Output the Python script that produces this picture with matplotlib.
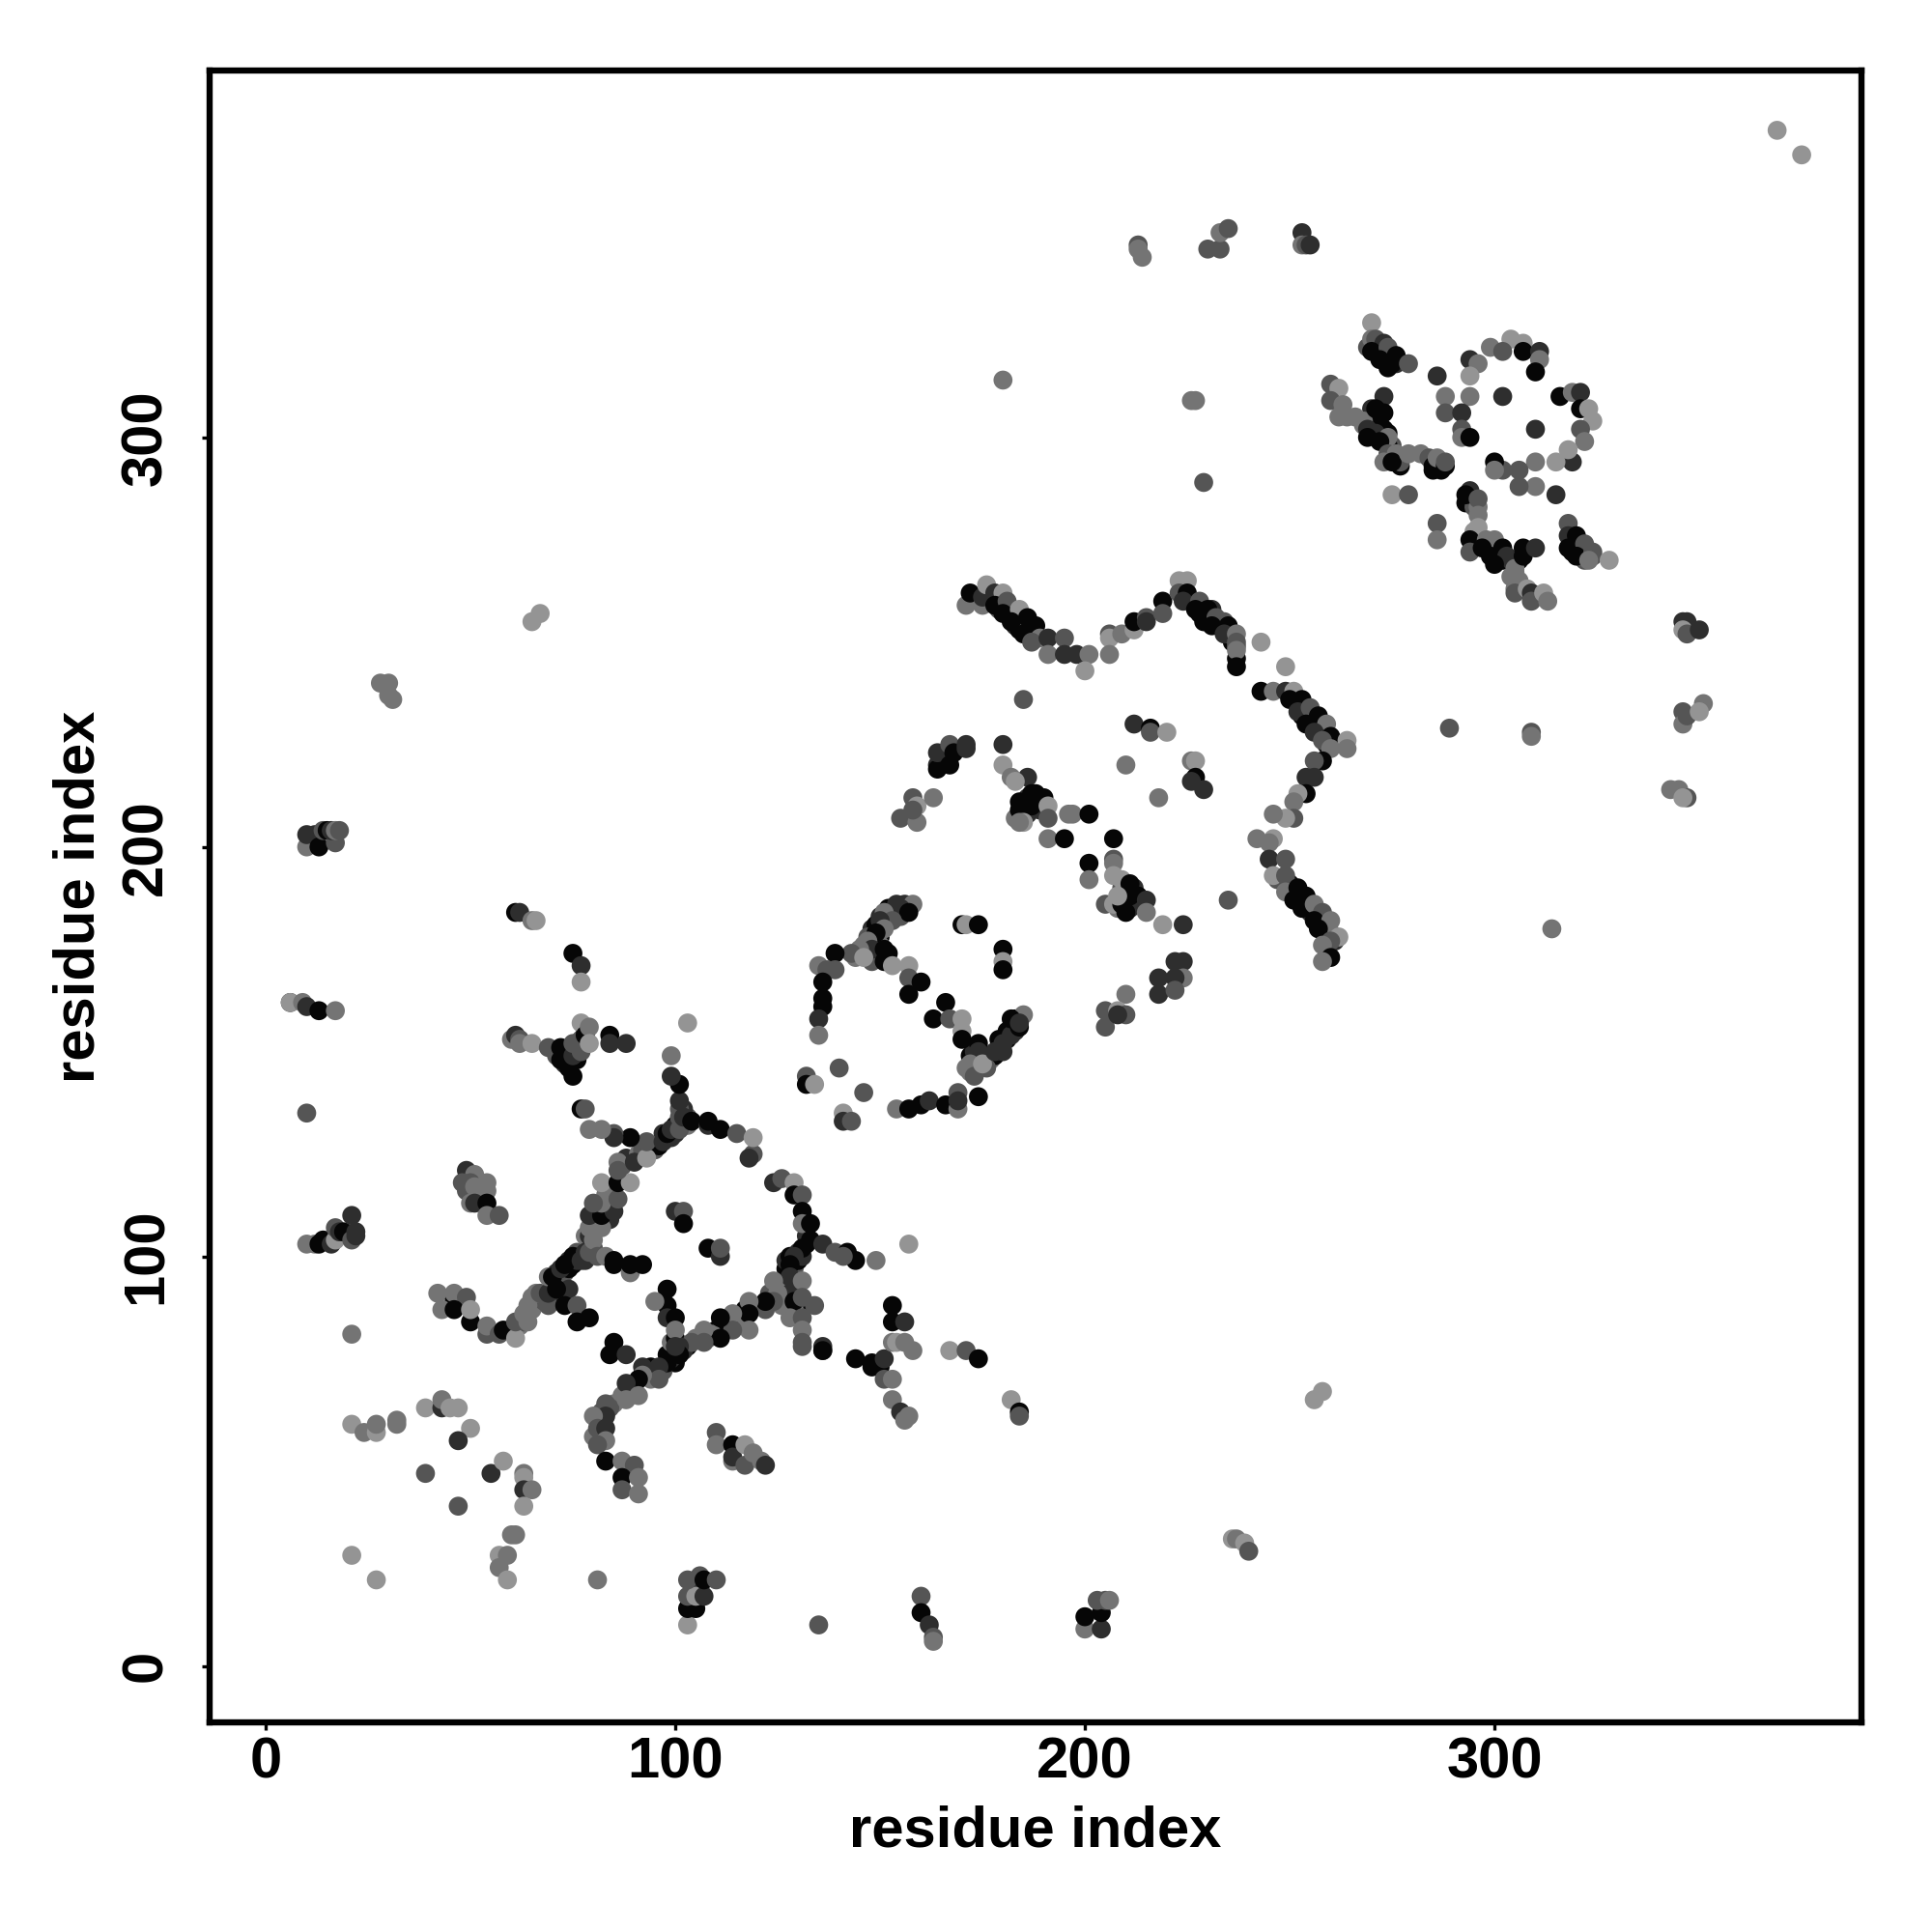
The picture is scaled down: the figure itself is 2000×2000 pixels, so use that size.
import matplotlib
matplotlib.use('Agg')
import matplotlib.pyplot as plt

plt.rcParams['font.family'] = ['Liberation Sans', 'DejaVu Sans']
plt.rcParams['font.weight'] = 'bold'

# contacts: (residue, residue, shade class 0=darkest .. 4=lightest)
shades = ['#060606', '#2e2e2e', '#555555', '#747474', '#949494']

# thick parts of the chains, these go underneath
dense_under = [(70,94,0),(71,96,1),(72,95,0),(73,96,2),(74,97,0),(74,99,1),(75,98,0),(76,99,1),(76,101,2),(77,100,0),(78,99,1),(79,103,3),
    (80,102,2),(78,105,3),(79,105,1),(65,87,3),(62,83,3),(63,84,2),(65,90,3),(68,89,2),(70,92,0),(72,91,0),(70,90,1),
    (80,108,0),(81,109,1),(81,111,3),(83,112,0),(84,113,2),(83,115,3),(84,109,1),(87,122,2),(88,124,1),(91,125,3),(92,126,2),(94,126,1),
    (95,126,2),(96,127,0),(97,130,1),(99,129,1),(100,132,0),(100,130,1),(102,132,1),(103,134,2),(102,136,1),(101,136,2),(103,132,3),
    (127,97,0),(127,99,1),(128,100,0),(129,97,2),(130,99,0),(130,101,1),(131,100,1),(132,103,0),(132,105,1),(127,93,2),(126,92,3),(128,91,1),
    (130,88,0),(129,87,3),(123,91,2),(122,87,2),(125,91,3),(126,88,3),
    (116,84,3),(117,87,0),(113,84,2),(112,82,1),(110,82,0),(109,81,3),(108,80,2),(105,80,3),(103,78,0),(102,77,1),(100,76,1),(100,74,0),
    (99,75,1),(98,76,0),(97,72,2),(95,71,1),(94,73,0),(93,71,2),(94,70,3),(90,68,3),(89,67,2),(87,66,3),(85,64,3),(84,63,2),(82,62,2),
    (81,60,1),(82,56,2),(80,56,3),(99,79,3),(100,80,0),
    (73,150,0),(73,147,1),(74,148,0),(76,151,1),(77,153,2),(78,155,1),(76,148,0),(78,152,2),(71,149,2),(74,146,0),
    (52,116,2),(53,115,1),(49,116,2),
    (148,180,1),(149,181,0),(150,183,1),(152,185,0),(153,184,2),(154,186,1),(156,186,1),(147,178,2),(146,176,3),(149,177,1),(150,178,0),
    (144,173,3),(147,174,3),(148,172,2),(152,174,0),(150,176,3),(155,183,2),
    (174,146,3),(175,148,1),(176,149,0),(177,148,3),(178,149,0),(179,151,1),(180,150,1),(181,153,0),(183,155,1),(183,158,0),(184,158,1),
    (176,146,2),(172,149,0),(173,150,1),(179,153,0),(181,155,0),(171,146,3),
    (185,210,0),(186,212,1),(188,211,0),(186,208,1),(188,213,0),(189,209,1),(183,207,3),(210,187,0),(211,185,1),(212,190,1),(213,188,0),
    (208,185,3),(209,190,2),(212,186,1),
    (177,260,0),(179,258,2),(181,258,1),(183,256,0),(183,254,1),(185,254,1),(184,253,0),(187,252,3),(186,253,2),
    (226,260,1),(228,257,0),(230,256,2),(231,258,1),(233,254,0),(234,255,2),(236,252,1),(236,250,0),(237,246,0),(237,249,2),(235,252,3),
    (252,235,1),(254,234,0),(255,232,2),(256,230,1),(253,232,0),(257,229,3),(258,228,0),(259,228,1),(259,225,0),(261,225,2),
    (250,191,0),(251,190,1),(253,187,2),(254,186,0),(255,184,1),(257,183,0),(259,181,2),(258,180,0),(260,179,3),(261,177,1),(252,188,0),
    (256,183,1),(247,192,2),
    (269,322,2),(271,321,1),(272,320,0),(273,319,1),(275,320,0),(276,318,1),(274,317,0),(270,307,1),(272,305,0),(272,303,1),(270,304,3),
    (274,301,0),(275,298,2),(274,298,0),(276,295,3),(277,293,0),(277,294,2),(285,292,0),(286,294,1),(287,292,0),(294,284,1),(293,284,0),
    (295,283,2),(296,283,3),(295,277,4),(296,276,3),(297,275,1),(299,272,0),(301,272,1),(302,270,0),(304,270,1),(305,267,3),(306,270,0),
    (304,266,3),(305,263,3),(306,265,3),(319,275,0),(319,272,0),(321,272,1),(322,272,1),(322,270,2),(324,271,2),(268,303,3),(270,301,1),
    (271,303,0),(104,18,2),(105,20,1),(106,19,1),(104,15,0)]

far_left = [(6,162,1),(6,162,4),(9,162,3),(10,161,1),(13,160,0),(17,160,3),(10,135,2),
    (10,103,3),(12,103,3),(13,103,0),(14,104,0),(16,103,1),(17,104,4),(17,107,2),(18,106,1),(19,106,0),
    (21,104,2),(21,110,1),(22,106,1),(22,105,1),
    (10,200,3),(10,203,1),(12,203,1),(13,200,0),(14,204,2),(15,204,0),(17,201,2),(16,204,1),(17,204,3),(18,204,2),
    (28,240,3),(30,240,3),(30,237,3),(31,236,3),(61,184,0),(62,184,1),(65,182,3),(66,182,4),(65,255,4),(67,257,4),
    (21,81,3)]

left_cloud = [(21,59,4),(24,57,3),(27,57,4),(27,59,3),(32,59,3),(32,60,3),(39,63,4),(43,63,1),(43,65,3),(47,63,4),
    (45,63,4),(50,58,4),(47,55,1),(39,47,2),(55,47,1),(58,50,4),(63,47,3),(63,46,4),(63,43,1),(65,43,3),(63,39,4),
    (47,39,2),(60,32,3),(61,32,3),(57,27,4),(59,27,3),(57,24,3),(59,21,4),(21,27,4),(27,21,4),(81,21,3)]

block_50 = [(49,121,1),(51,120,3),(48,118,2),(50,118,2),(51,117,3),(54,118,3),(54,116,3),(50,113,3),(51,113,1),
    (54,113,0),(54,110,3),(57,110,2)]

hook_left = [(42,91,3),(46,89,0),(46,91,3),(49,90,2),(43,87,3),(46,87,0),(50,84,0),(50,87,4),(54,81,2),(54,83,3),
    (57,81,2),(58,82,0),(61,80,4),(61,84,2),(63,86,3),(64,84,3),(64,88,3),(66,91,3),(67,91,2),(69,88,2),(69,91,1)]

chain_up = [(69,95,3),(70,95,0),(72,97,1),(73,98,0),(74,92,1),(71,92,0),(75,100,0),(77,99,1),(78,101,1),(79,101,2),
    (80,104,3),(81,100,2),(83,100,3),(85,99,0),(85,98,0),(89,96,3),(89,98,0),(92,98,0),
    (73,88,0),(76,88,2),(76,84,0),(79,85,0),
    (79,107,3),(82,107,3),(79,110,1),(82,110,0),(85,111,1),(82,113,3),(80,113,2),(86,114,2),(82,118,4),(86,118,0),
    (89,118,4),(86,123,3),(86,121,2),(90,123,1),(93,124,4),(93,128,2),(89,129,0),(85,130,2),(85,129,1),(82,131,3),
    (79,131,3),(77,136,0),(78,136,2)]

star_top = [(97,128,1),(98,130,0),(99,131,1),(101,131,2),(101,134,2),(102,134,1),(101,138,1),(101,142,0),(99,144,1),
    (99,149,3),(103,157,4),(104,133,0),(108,132,1),(108,133,0),(111,131,0),(115,130,2),(119,125,2),(118,124,1),(119,129,4),
    (100,111,1),(102,111,2),(102,108,0),(108,102,0),(111,100,1),(111,102,2)]

ring_right = [(124,118,1),(126,119,2),(129,118,4),(129,115,0),(131,115,2),(131,111,0),(131,108,3),(133,108,0),(133,104,0),
    (136,103,1),(139,101,2),(142,101,0),(144,99,0),(149,99,3),(131,102,0),(129,100,1),(128,98,0),(128,95,1),(124,94,3),
    (124,89,2),(122,89,0),(129,89,0),(128,85,3),(131,85,2),(131,82,3),(131,79,2),(136,77,2),(136,78,1),(144,75,0),(148,73,0)]

chain_low = [(118,89,3),(118,86,0),(118,82,3),(114,86,3),(114,82,2),(111,85,0),(111,80,0),(107,82,3),(107,79,2),(104,79,2),
    (101,78,1),(101,76,0),(98,74,0),(96,73,1),(96,70,2),(92,73,1),(92,71,3),(91,70,0),(88,69,1),(91,66,3),(88,65,3),
    (83,64,2),(83,61,1),(80,61,3),(81,58,2),(83,58,1),(83,55,3),(81,54,2),(83,50,0),(87,50,3),(90,49,2),(87,46,0),
    (91,46,3),(87,43,2),(91,42,3),(98,92,0),(98,88,0),(95,89,3),(98,85,1),(100,85,0),(100,82,3),(100,78,1),
    (85,79,0),(84,76,0),(88,76,1)]

low_mid = [(103,10,4),(103,14,0),(105,14,0),(103,17,2),(105,17,4),(107,17,1),(103,21,2),(106,22,2),(107,21,0),(110,21,2),
    (135,10,2),(110,57,2),(110,54,3),(114,54,0),(114,50,3),(114,51,1),(117,54,4),(117,49,2),(119,52,3),(121,50,3),(122,49,1),
    (160,17,2),(160,13,0),(162,10,1),(163,7,2),(163,6,3),(200,9,3),(200,12,0),(204,9,1),(204,13,0),(203,16,2),(205,16,2),(206,16,3),
    (236,31,4),(237,31,3),(239,30,4),(240,28,2),(258,67,4),(256,65,4)]

top_left = [(60,153,3),(61,154,1),(62,153,2),(62,152,3),(65,152,4),(69,151,2),(72,151,0),(72,148,0),(75,149,1),(75,144,0),
    (75,152,2),(77,150,2),(77,157,4),(78,154,0),(79,156,3),(79,152,4),(84,154,0),(84,152,1),(88,152,1),
    (75,174,0),(77,171,1),(77,167,4)]

mid_right = [(131,94,3),(131,90,2),(134,88,2),(141,100,2),(136,77,0),(131,78,2),(153,88,0),(153,84,0),(156,84,1),(148,74,0),
    (150,73,0),(151,75,1),(151,70,2),(153,79,3),(154,79,4),(156,79,3),(158,77,3),(153,70,3),(153,65,3),(155,62,1),(157,61,3),
    (156,60,3),(167,77,4),(171,77,2),(174,75,0),(182,65,4),(184,62,0),(184,61,2),(157,103,4)]

ridge_top = [(171,259,3),(172,262,0),(175,259,3),(175,261,1),(176,264,4),(178,262,1),(180,262,4),(178,259,0),(181,260,2),
    (180,257,0),(184,258,4),(182,255,0),(186,256,0),(185,252,0),(188,254,0),(189,251,3),(187,250,2),(191,251,1),(191,247,3),
    (195,251,2),(195,247,1),(198,247,1),(201,247,3),(200,243,4),(206,252,2),(206,251,4),(206,247,3),(209,252,3),(212,253,4),
    (212,255,0),(215,256,2),(215,255,1),(219,260,0),(219,257,2)]

ridge_right = [(223,265,4),(225,265,4),(223,262,2),(225,262,0),(224,260,1),(228,260,2),(227,258,0),(230,258,0),(229,255,0),
    (232,256,2),(231,254,0),(235,254,0),(234,252,1),(237,252,3),(237,250,2),(237,248,3),(237,244,0),(243,250,4),(249,244,4),
    (243,238,0),(246,238,3),(249,238,1),(251,238,4),(250,236,0),(253,236,0),(252,233,1),(255,234,2),(257,232,0),(254,230,0),
    (259,230,3),(256,228,1),(260,227,0),(258,226,2),(264,226,4),(264,224,3),(260,224,3),
    (258,221,0),(256,221,2),(256,217,1),(254,217,1),(254,213,0),(252,213,4),(251,211,3),(251,207,2),(249,207,4),(246,208,3),
    (242,202,3),(246,202,4),(245,201,3),(245,197,1),(249,197,2),(246,193,4),(249,193,2),(249,189,3),(252,190,0),(251,187,0),
    (254,188,0),(253,185,0),(256,186,3),(258,184,2),(256,182,0),(260,182,3),(257,180,0),(262,178,4),(260,177,2),(258,176,3),
    (260,173,0),(258,172,3)]

inner_200 = [(185,236,2),(212,230,1),(216,229,0),(216,228,2),(220,228,4),(226,221,3),(227,221,4),(227,217,0),(226,216,1),
    (229,214,1),(210,220,3),(218,212,3),(235,187,2),
    (164,220,1),(164,219,0),(164,223,1),(167,225,2),(167,220,0),(168,223,0),(171,225,1),(171,224,1),
    (155,207,2),(158,212,2),(159,210,4),(159,206,3),(158,209,2),(163,212,3),
    (180,225,1),(180,220,4),(182,217,3),(186,217,1),(183,216,4),(187,213,0),(190,212,0),(184,211,0),(187,210,0),(191,210,4),
    (184,209,0),(185,206,4),(184,206,3),(191,207,2),(196,208,3),(197,208,3),(201,208,0),(191,202,3),(195,202,0),(207,202,0),
    (201,196,0),(201,192,3),(207,197,2),(207,196,3),(207,193,4),(209,192,4),(211,191,0),(211,188,0),(215,187,1),(215,184,3),
    (205,186,2),(207,186,4),(209,186,0),(210,184,0),(208,188,4),(219,181,4),(224,181,1)]

low_200 = [(222,172,1),(224,172,1),(224,168,3),(218,168,1),(222,168,1),(218,164,1),(222,165,2),(210,164,3),(205,160,2),(205,156,2),
    (208,160,4),(210,159,2),(208,159,1)]

ring_150 = [(158,186,3),(155,185,1),(157,184,0),(151,184,3),(153,182,2),(150,182,1),(151,180,3),(149,179,0),(147,177,3),(148,175,1),
    (145,175,3),(143,174,2),(146,173,4),(151,175,0),(151,172,0),(153,171,4),(157,171,4),(157,168,2),(160,167,0),(157,164,0),
    (139,174,0),(135,171,3),(137,170,2),(139,170,2),(136,167,0),(136,163,0),(136,161,0),(135,158,1),(135,154,3),
    (140,146,2),(146,140,2),(132,144,2),(132,142,0),(134,142,4),(141,135,4),(141,133,1),(143,133,2),
    (154,136,3),(157,136,0),(160,137,0),(162,138,1),(166,137,0),(169,140,2),(169,136,3),(169,138,1),(174,139,0),
    (163,158,0),(166,162,0),(167,158,2),(170,158,4),(170,155,4),(170,153,0),(174,152,0),(174,150,1),(172,147,3),(172,145,3),
    (173,144,2),(175,147,4),(178,150,1),(180,152,1),(182,154,1),(184,156,0),(185,159,3),(182,158,0),(184,157,1),
    (170,181,0),(171,181,4),(174,181,0),(180,175,0),(180,172,4),(180,170,0)]

far_top = [(213,347,2),(213,346,3),(214,344,3),(180,314,3),(226,309,3),(227,309,3),(229,289,2),
    (230,346,2),(233,346,2),(233,350,3),(235,351,2),(253,350,1),(253,347,3),(254,347,2),(255,347,1),
    (369,375,4),(375,369,4)]

far_right = [(289,229,2),(309,228,2),(309,227,3),(314,180,3),(346,255,1),(347,255,1),(346,253,4),(347,252,2),(350,253,1),
    (346,233,2),(346,230,3),(347,232,2),(351,235,3),(350,233,4),(343,214,3),(345,214,3),(347,212,2),(346,212,4)]

cluster_300 = [(270,328,4),(270,324,3),(271,324,2),(273,323,1),(270,321,0),(274,322,2),(276,320,0),(272,319,0),(275,318,0),(279,318,2),
    (286,315,1),(294,319,1),(296,318,3),(294,315,4),(299,322,3),(304,324,4),(307,323,4),(302,321,2),(307,321,0),(311,321,1),
    (311,319,3),(310,316,0),(302,310,1),(310,302,1),(316,310,0),(319,311,3),(321,311,1),(321,307,0),(323,307,4),(324,304,4),
    (321,302,2),(322,299,3),(319,294,1),(318,297,4),(315,294,4),(310,294,3),(310,288,3),(306,288,2),(306,292,2),(302,292,2),
    (300,294,0),(300,292,3),(315,286,1),(288,310,3),(294,310,3),(288,306,2),(292,306,1),(292,302,2),(292,300,3),(294,300,0),
    (260,313,2),(262,312,4),(260,309,2),(263,308,3),(262,305,3),(264,305,3),(266,305,3),(268,304,3),(273,310,1),(271,307,0),
    (273,306,0),(273,302,0),(269,302,1),(271,301,1),(269,300,0),(274,300,3),(272,299,0),(274,296,2),(276,296,3),(273,294,3),
    (275,294,0),(279,296,3),(282,296,3),(284,295,2),(285,293,0),(286,295,3),(288,293,0),(288,294,2),
    (275,286,4),(279,286,2),(286,279,2),(286,275,3),
    (294,287,1),(293,286,0),(296,285,2),(296,281,3),(296,278,4),(294,275,0),(294,272,2),(298,275,3),(300,275,3),(297,273,0),
    (302,273,0),(299,271,0),(303,271,1),(300,269,0),(305,268,3),(305,265,3),(305,262,2),(307,273,0),(307,271,0),(310,273,1),
    (308,263,4),(309,262,1),(309,260,2),(312,262,4),(313,260,3),
    (318,279,2),(318,276,1),(320,276,0),(318,273,0),(322,274,2),(320,271,0),(324,272,2),(323,270,3),(328,270,4)]

regions = [dense_under, far_left, left_cloud, block_50, hook_left, chain_up, star_top, ring_right, chain_low, low_mid, top_left, mid_right,
           ridge_top, ridge_right, inner_200, low_200, ring_150, far_top, far_right, cluster_300]

x_ticks = [0, 100, 200, 300]
y_ticks = [0, 100, 200, 300]

xs, ys, cs = [], [], []
for reg in regions:
    for a, b, s in reg:
        xs.append(a)
        ys.append(b)
        cs.append(shades[s])

fig = plt.figure(figsize=(10, 10), dpi=200)
ax = fig.add_axes([217/2000, 1-1783/2000, (1927-217)/2000, (1783-73)/2000])
ax.scatter(xs, ys, c=cs, s=50, linewidths=0, zorder=3)
ax.set_xlim(-13.7, 389.6)
ax.set_ylim(-13.8, 389.6)
ax.set_xticks(x_ticks)
ax.set_yticks(y_ticks)
ax.tick_params(axis='both', length=3, width=1.2, labelsize=21.5)
ax.tick_params(axis='x', pad=2.3)
ax.tick_params(axis='y', pad=10.5)
plt.setp(ax.get_yticklabels(), rotation=90, va='center')
for sp in ax.spines.values():
    sp.set_linewidth(2.3)
ax.set_xlabel('residue index', fontsize=21.5, fontweight='bold', labelpad=5.5)
ax.set_ylabel('residue index', fontsize=21.5, fontweight='bold', labelpad=5.5)
plt.savefig('out.png', dpi=200)
